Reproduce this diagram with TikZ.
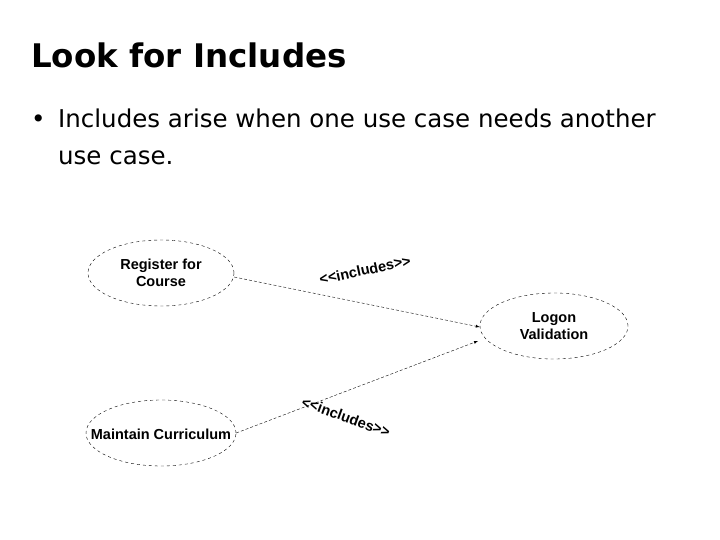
\documentclass[tikz,border=0pt]{standalone}
\usepackage{fontspec}
\setmainfont{DejaVu Sans}
\newfontfamily\diagfont{Liberation Sans}
\usetikzlibrary{shapes.geometric}
\tikzset{
  usecase/.style={draw, dashed, ellipse, minimum width=146pt, minimum height=66pt, inner sep=0pt, align=center, font=\diagfont\bfseries\fontsize{14.5}{17}\selectfont},
  incl/.style={draw, densely dashed, -latex},
  stereo/.style={font=\diagfont\bfseries\fontsize{14.5}{16}\selectfont, inner sep=0pt},
  bodytext/.style={anchor=base west, font=\fontsize{24.5}{30}\selectfont, inner sep=0pt}
}
\begin{document}
\begin{tikzpicture}[x=1pt, y=-1pt]
  \useasboundingbox (0,0) rectangle (720,540);
  % title and bullet
  \node[anchor=base west, font=\bfseries\fontsize{32.5}{36}\selectfont, inner sep=0pt] (title) at (31,68) {Look for Includes};
  \node[bodytext] (bullet) at (31,128) {\textbullet};
  \node[bodytext] (line1) at (58,128) {Includes arise when one use case needs another};
  \node[bodytext] (line2) at (58,165) {use case.};
  % use cases
  \node[usecase] (reg) at (161,273) {Register for\\Course};
  \node[usecase, minimum width=148pt] (logon) at (554,326) {Logon\\Validation};
  \node[usecase, minimum width=150pt] (maint) at (161,433) {};
  \node[font=\diagfont\bfseries\fontsize{14.5}{17}\selectfont, inner sep=0pt] (mtext) at (161,434) {Maintain Curriculum};
  % includes
  \draw[incl] (reg.east) ++(0,4) coordinate (r1) -- (logon.west |- 0,327) coordinate (l1);
  \draw[incl] (maint.east) -- (478,341) coordinate (l2);
  \node[stereo, rotate=12] (s1) at (365,270) {<<includes>>};
  \node[stereo, rotate=-20] (s2) at (346,417) {<<includes>>};
\end{tikzpicture}
\end{document}
